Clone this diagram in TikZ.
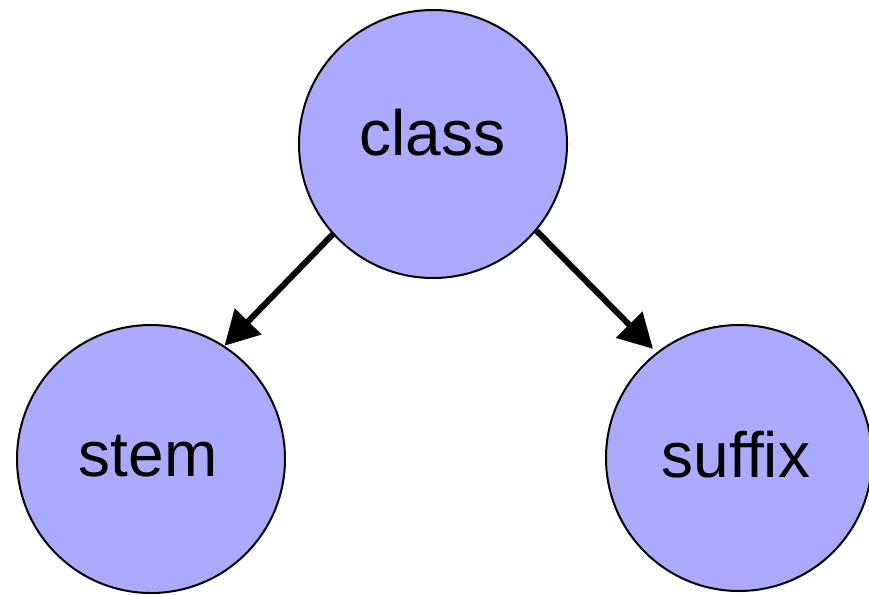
\documentclass[tikz,border=0pt]{standalone}
\usepackage{fontspec}
\setmainfont{Liberation Sans}
\usetikzlibrary{arrows.meta}
\definecolor{nodefill}{RGB}{170,170,255}
\tikzset{
  ball/.style={circle, draw=black, line width=2pt, fill=nodefill, minimum size=268pt, inner sep=0pt},
  word/.style={anchor=base, font=\fontsize{64}{72}\selectfont, inner sep=0pt},
  link/.style={line width=6pt, -{Triangle[length=34pt,width=36pt]}}
}
\begin{document}
\begin{tikzpicture}[x=1pt,y=-1pt]
\useasboundingbox (0,0) rectangle (869,594);
\node[ball] (class) at (433,144) {};
\node[ball] (stem) at (151,459) {};
\node[ball, minimum size=266pt] (suffix) at (739,458) {};
\node[word] (tclass) at (432.5,155) {class};
\node[word] (tstem) at (148,476) {stem};
\node[word] (tsuffix) at (736,477) {suffix};
\draw[link] (class.222.6) -- (stem.57);
\draw[link, shorten >=5pt] (class.-40) -- (suffix.128);
\end{tikzpicture}
\end{document}
